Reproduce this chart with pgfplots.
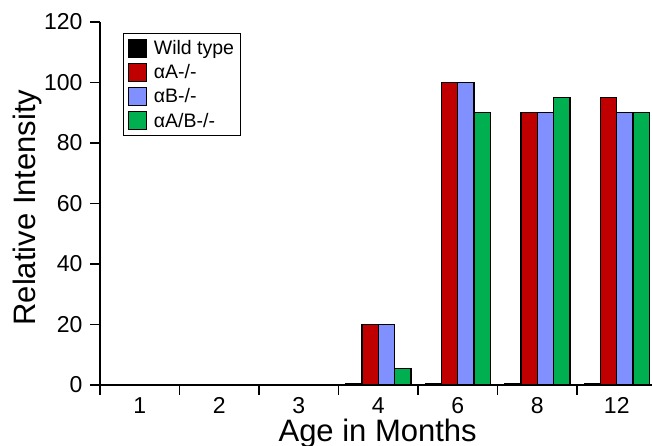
\documentclass[border=0pt]{standalone}
\usepackage{pgfplots}
\pgfplotsset{compat=1.18}
\usepackage{fontspec}
\setmainfont{Liberation Sans}
\definecolor{cred}{RGB}{192,0,0}
\definecolor{cblue}{RGB}{128,144,255}
\definecolor{cgreen}{RGB}{0,176,80}
\begin{document}
\begin{tikzpicture}
\useasboundingbox (-100pt,-61pt) rectangle (552pt,385pt);
\begin{axis}[
  at={(0,0)}, anchor=south west,
  scale only axis, width=552pt, height=363pt,
  xmin=0.5, xmax=7.443, ymin=0, ymax=120,
  axis lines*=left,
  axis line style={line width=1.3pt},
  ytick={0,20,...,120},
  xtick={0.5,1.5,...,7.5}, xticklabels={},
  extra x ticks={1,2,3,4,5,6,7},
  extra x tick labels={1,2,3,4,6,8,12},
  extra x tick style={major tick length=0pt, xticklabel style={yshift=-9pt}},
  tick align=outside,
  major tick length=10pt,
  tick style={line width=1.2pt, black},
  /pgf/number format/assume math mode=true,
  ticklabel style={font=\fontsize{23}{23}\selectfont},
  yticklabel style={xshift=-4pt},
  xlabel={Age in Months},
  ylabel={Relative Intensity},
  every axis x label/.style={at={(axis description cs:0.503,-0.157)}, anchor=base, font=\fontsize{31}{31}\selectfont},
  every axis y label/.style={at={(axis description cs:-0.132,0.489)}, rotate=90, anchor=center, font=\fontsize{31}{31}\selectfont},
  legend style={at={(axis description cs:0.0417,0.970)}, anchor=north west,
    font=\fontsize{19.5}{19.5}\selectfont, draw=black, line width=1.2pt,
    inner xsep=4pt, inner ysep=5pt, row sep=4.5pt, cells={anchor=west}},
  legend image code/.code={\draw[#1,line width=1.3pt] (2pt,-9pt) rectangle (20pt,9pt); \path (25pt,0pt);},
  bar width=0.205,
]
\addplot[ybar, bar shift=-0.3075, fill=black, draw=black, line width=1.3pt] coordinates {(1,0) (2,0) (3,0) (4,0.3) (5,0.3) (6,0.3) (7,0.3)};
\addplot[ybar, bar shift=-0.1025, fill=cred, draw=black, line width=1.3pt] coordinates {(1,0) (2,0) (3,0) (4,20) (5,100) (6,90) (7,95)};
\addplot[ybar, bar shift=0.1025, fill=cblue, draw=black, line width=1.3pt] coordinates {(1,0) (2,0) (3,0) (4,20) (5,100) (6,90) (7,90)};
\addplot[ybar, bar shift=0.3075, fill=cgreen, draw=black, line width=1.3pt] coordinates {(1,0) (2,0) (3,0) (4,5.5) (5,90) (6,95) (7,90)};
\legend{Wild type,αA-/-,αB-/-,αA/B-/-}
\end{axis}
\end{tikzpicture}
\end{document}
